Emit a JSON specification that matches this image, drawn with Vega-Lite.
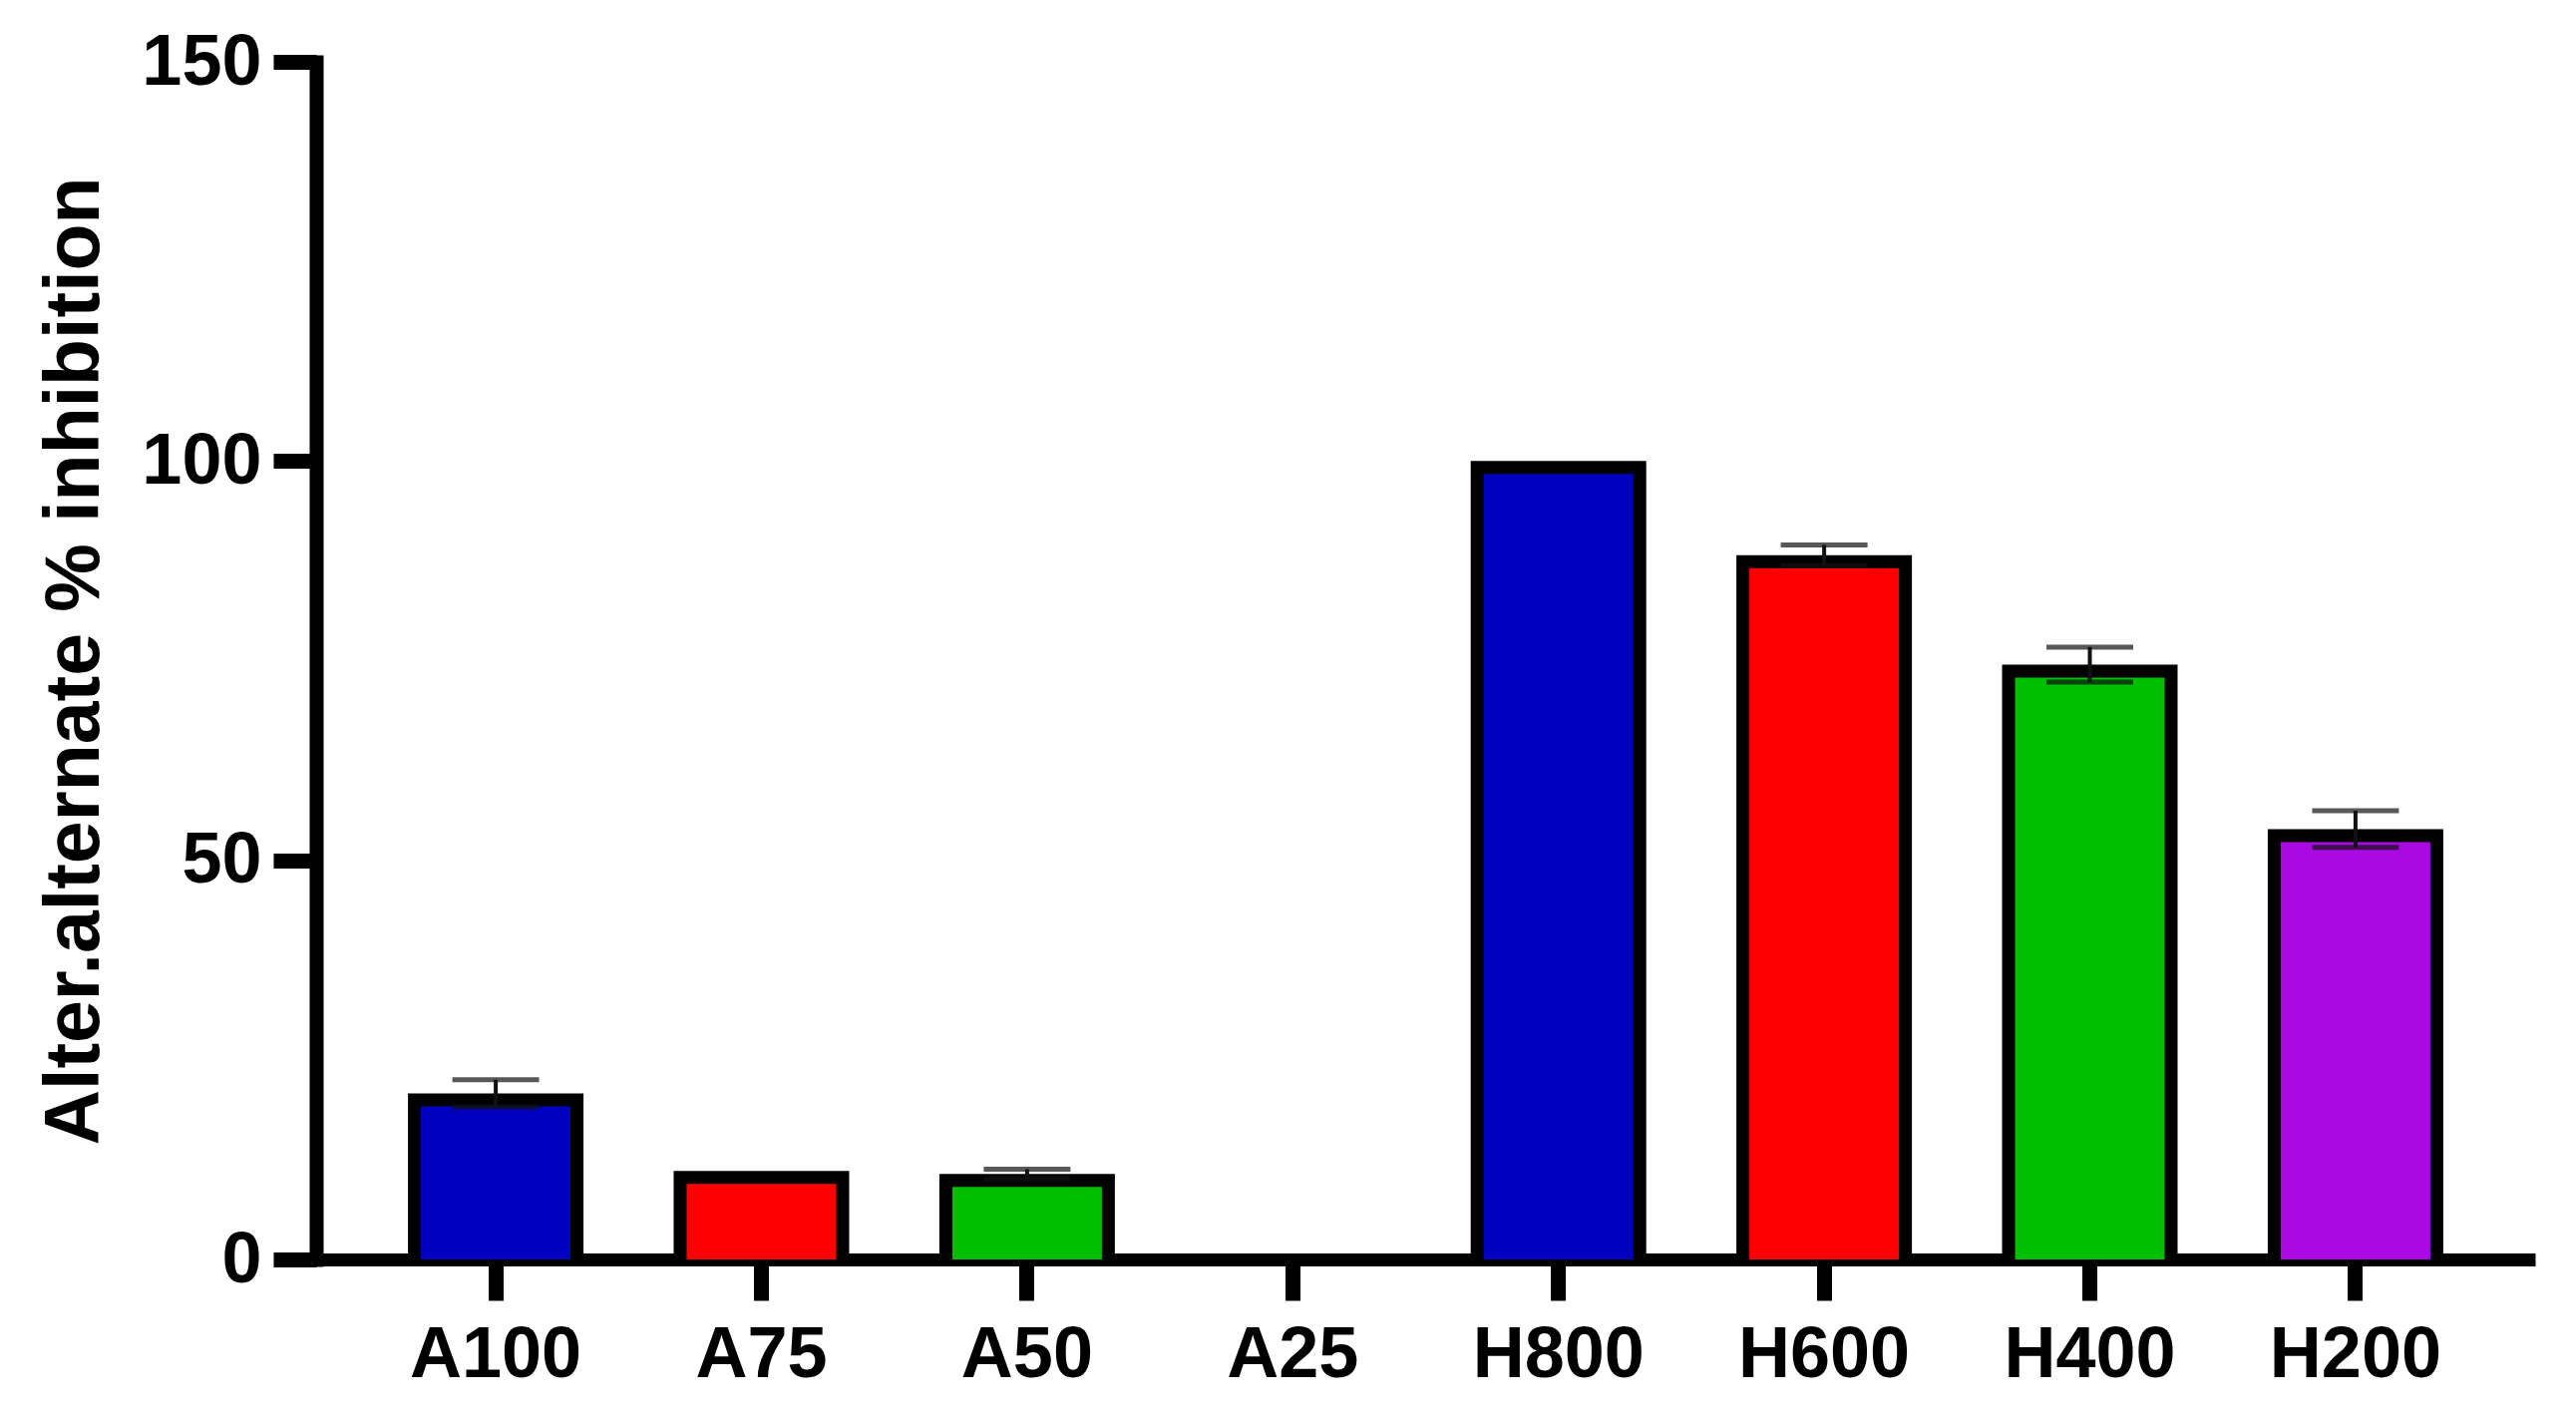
{
  "$schema": "https://vega.github.io/schema/vega-lite/v6.json",
  "width": 2225,
  "height": 1201,
  "autosize": "none",
  "padding": {"left": 317, "top": 62, "right": 41, "bottom": 160},
  "background": "white",
  "config": {
    "view": {"stroke": null},
    "font": "Liberation Sans"
  },
  "data": {
    "values": [
      {"label": "A100", "value": 20.8, "sem": 1.7},
      {"label": "A75", "value": 11.1, "sem": 0},
      {"label": "A50", "value": 10.7, "sem": 0.6},
      {"label": "A25", "value": 0, "sem": 0},
      {"label": "H800", "value": 100, "sem": 0},
      {"label": "H600", "value": 88.2, "sem": 1.3},
      {"label": "H400", "value": 74.5, "sem": 2.2},
      {"label": "H200", "value": 53.9, "sem": 2.3}
    ]
  },
  "encoding": {
    "x": {
      "field": "label",
      "type": "nominal",
      "sort": null,
      "scale": {
        "domain": ["A100", "A75", "A50", "A25", "H800", "H600", "H400", "H200"],
        "paddingInner": 0.4,
        "paddingOuter": 0.376
      },
      "axis": {
        "title": null,
        "labelAngle": 0,
        "labelFont": "Liberation Sans",
        "labelFontSize": 72,
        "labelFontWeight": "bold",
        "labelColor": "black",
        "labelPadding": 19,
        "tickSize": 41,
        "tickWidth": 15,
        "tickColor": "black",
        "domainWidth": 13,
        "domainColor": "black",
        "grid": false
      }
    },
    "y": {
      "field": "value",
      "type": "quantitative",
      "scale": {"domain": [0, 150], "nice": false, "zero": true},
      "axis": {
        "title": "Alter.alternate % inhibition",
        "titleFont": "Liberation Sans",
        "titleFontSize": 77,
        "titleFontWeight": "bold",
        "titleColor": "black",
        "titleAngle": -90,
        "titleX": -219,
        "titleY": 600.5,
        "titleAlign": "center",
        "titleBaseline": "alphabetic",
        "values": [0, 50, 100, 150],
        "labelFont": "Liberation Sans",
        "labelFontSize": 72,
        "labelFontWeight": "bold",
        "labelColor": "black",
        "labelPadding": 12,
        "tickSize": 43,
        "tickWidth": 15,
        "tickColor": "black",
        "domainWidth": 14,
        "domainColor": "black",
        "domainCap": "square",
        "grid": false
      }
    }
  },
  "layer": [
    {
      "transform": [{"filter": "datum.value > 0"}],
      "mark": {"type": "bar", "color": "black", "size": 176}
    },
    {
      "transform": [{"filter": "datum.value > 0"}],
      "mark": {"type": "bar", "size": 150, "yOffset": 13, "clip": true},
      "encoding": {
        "color": {
          "field": "label",
          "type": "nominal",
          "scale": {
            "domain": ["A100", "A75", "A50", "A25", "H800", "H600", "H400", "H200"],
            "range": ["#0000c0", "#ff0000", "#00bf00", "#ab09e2", "#0000c0", "#ff0000", "#00bf00", "#ab09e2"]
          },
          "legend": null
        }
      }
    },
    {
      "transform": [{"filter": "datum.sem > 0"}],
      "mark": {
        "type": "errorbar",
        "ticks": {"size": 87, "thickness": 5, "color": "#111111"},
        "rule": {"strokeWidth": 4, "color": "#111111"}
      },
      "encoding": {
        "yError": {"field": "sem"}
      }
    }
  ]
}
